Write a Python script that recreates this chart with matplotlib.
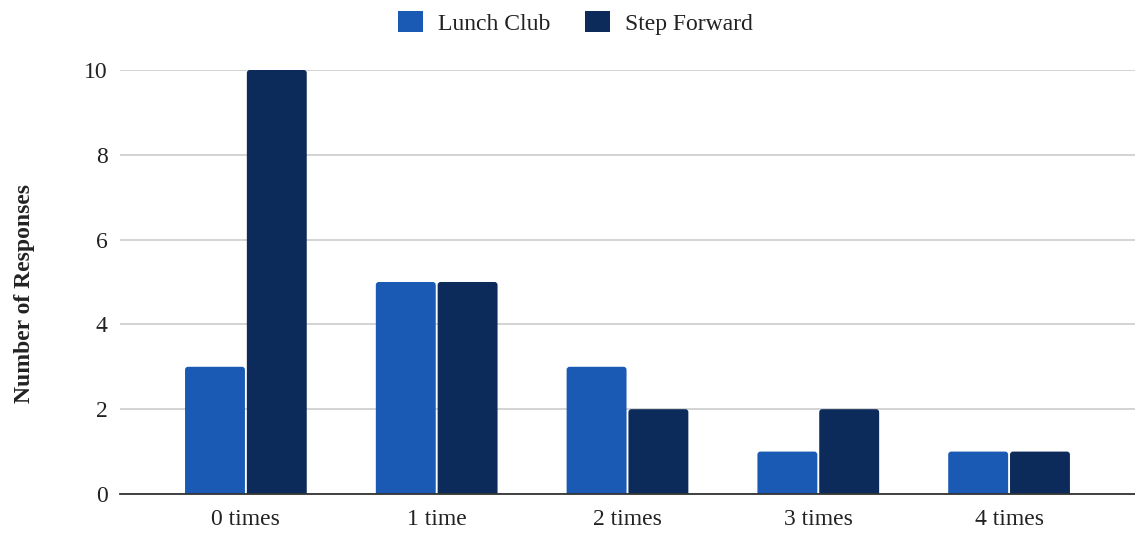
import matplotlib
matplotlib.use("Agg")
import matplotlib.pyplot as plt
from matplotlib.patches import FancyBboxPatch, Patch
import numpy as np

categories = ["0 times", "1 time", "2 times", "3 times", "4 times"]
lunch_club = [3, 5, 3, 1, 1]
step_forward = [10, 5, 2, 2, 1]
series_names = ["Lunch Club", "Step Forward"]
y_ticks = [0, 2, 4, 6, 8, 10]

colors = ["#1a5ab4", "#0c2b5b"]

plt.rcParams["font.family"] = ["Liberation Serif", "DejaVu Serif"]

fig = plt.figure(figsize=(11.35, 5.33), dpi=100)
ax = fig.add_axes([0.1057, 0.0732, 0.8943, 0.7955])

x = np.arange(len(categories))
w = 0.314
off = 0.162
xlim = (-0.66, 4.66)
ylim = (0, 10)
ax.set_xlim(*xlim)
ax.set_ylim(*ylim)

# aspect between one data unit in y and in x, in screen pixels
bbox = ax.get_position()
fig_w, fig_h = fig.get_size_inches() * fig.dpi
px_per_x = bbox.width * fig_w / (xlim[1] - xlim[0])
px_per_y = bbox.height * fig_h / (ylim[1] - ylim[0])
aspect = px_per_x / px_per_y
radius = 3.0 / px_per_x  # ~3 px corner radius


def rounded_bars(xs, heights, color):
    bars = ax.bar(xs, heights, width=w, color=color, zorder=3)
    for rect in bars.patches:
        rect.set_visible(False)
        x0, h = rect.get_x(), rect.get_height()
        extra = 0.2
        p = FancyBboxPatch((x0, -extra), w, h + extra,
                           boxstyle=f"round,pad=0,rounding_size={radius}",
                           mutation_aspect=aspect, facecolor=color,
                           edgecolor="none", zorder=3, clip_on=True)
        ax.add_patch(p)
        p.set_clip_path(ax.patch)


rounded_bars(x - off, lunch_club, colors[0])
rounded_bars(x + off, step_forward, colors[1])

ax.set_yticks(y_ticks)
ax.set_xticks(x)
ax.set_xticklabels(categories)
ax.tick_params(axis="both", length=0, labelsize=17, colors="#222222")
ax.tick_params(axis="y", pad=9)
ax.tick_params(axis="x", pad=11)
ax.grid(axis="y", color="#cccccc", linewidth=1.2, zorder=0)
for s in ["top", "right", "left"]:
    ax.spines[s].set_visible(False)
ax.spines["bottom"].set_color("#333333")
ax.spines["bottom"].set_linewidth(1.3)
ax.spines["bottom"].set_zorder(4)

ax.set_ylabel("Number of Responses", fontsize=17, fontweight="bold", color="#222222")
ax.yaxis.set_label_coords(-0.084, 0.472)

handles = [Patch(facecolor=c, edgecolor="none") for c in colors]
leg = fig.legend(handles, series_names, loc="upper center", bbox_to_anchor=(0.507, 1.02), ncol=2,
                 frameon=False, fontsize=17, handlelength=1.05, handleheight=1.05,
                 handletextpad=0.66, columnspacing=1.45)
for t in leg.get_texts():
    t.set_color("#222222")

fig.savefig("out.png", dpi=100)
